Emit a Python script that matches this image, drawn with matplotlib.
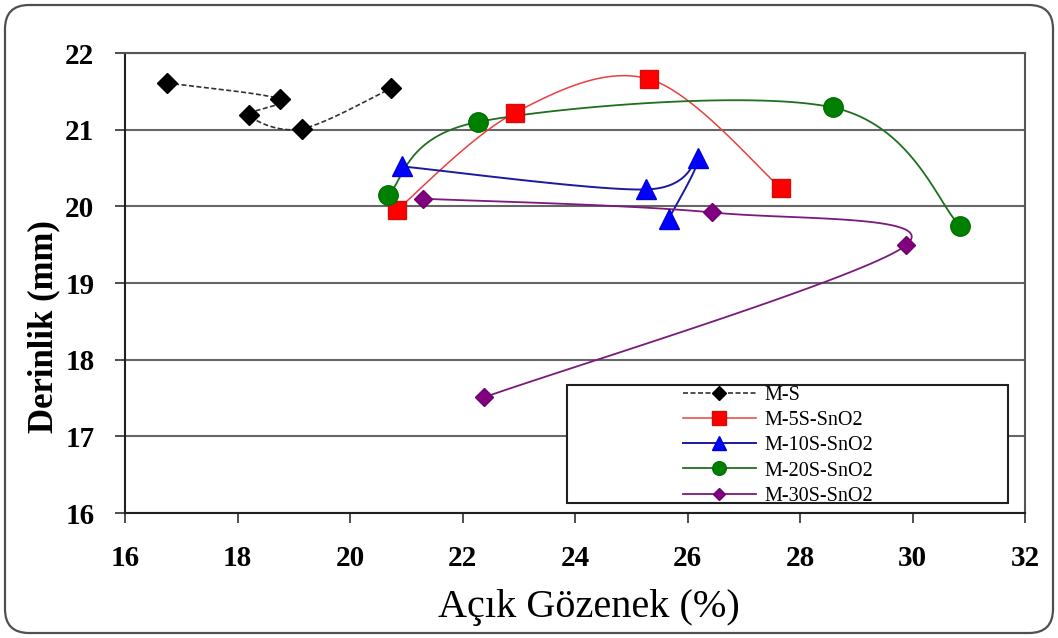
import numpy as np
import matplotlib
matplotlib.use("Agg")
import matplotlib.pyplot as plt
from matplotlib.patches import FancyBboxPatch, Rectangle
from matplotlib.lines import Line2D

# Açık gözenek (%) and derinlik (mm) per sample series, in plotting order
ms_x = [16.74, 18.76, 18.21, 19.14, 20.73]
ms_y = [21.61, 21.40, 21.19, 21.01, 21.54]
s5_x = [20.83, 22.93, 25.32, 27.66]
s5_y = [19.95, 21.22, 21.66, 20.24]
s10_x = [20.93, 25.26, 26.18, 25.67]
s10_y = [20.52, 20.22, 20.63, 19.84]
s20_x = [20.68, 22.27, 28.58, 30.84]
s20_y = [20.15, 21.10, 21.29, 19.75]
s30_x = [21.29, 26.44, 29.88, 22.39]
s30_y = [20.10, 19.92, 19.49, 17.51]

labels = ["M-S", "M-5S-SnO2", "M-10S-SnO2", "M-20S-SnO2", "M-30S-SnO2"]
x_ticks = [16, 18, 20, 22, 24, 26, 28, 30, 32]
y_ticks = [16, 17, 18, 19, 20, 21, 22]

W, H = 1058, 638
fig = plt.figure(figsize=(W / 100, H / 100), dpi=100)
fig.patch.set_facecolor("white")

# rounded outer frame (pixel coordinates)
frame = FancyBboxPatch((5, 5), W - 10, H - 10,
                       boxstyle="round,pad=0,rounding_size=24",
                       transform=None, facecolor="none",
                       edgecolor="#505050", linewidth=1.6)
fig.patches.append(frame)

L, R, T, B = 125, 1025, 53, 513
ax = fig.add_axes([L / W, (H - B) / H, (R - L) / W, (B - T) / H])
ax.set_xlim(16, 32)
ax.set_ylim(16, 22)
ax.set_xticks(x_ticks)
ax.set_yticks(y_ticks)

serif = ["Liberation Serif", "DejaVu Serif"]
for lab in ax.get_xticklabels() + ax.get_yticklabels():
    lab.set_fontfamily(serif)
    lab.set_fontweight("bold")
    lab.set_fontsize(21)
ax.tick_params(axis="x", direction="out", length=7, width=1.2, pad=16, color="#303030")
ax.tick_params(axis="y", direction="out", length=7, width=1.2, pad=15, color="#303030")

ax.yaxis.grid(True, color="#666666", linewidth=1.5)
ax.set_axisbelow(True)
ax.spines["left"].set_color("#202020")
ax.spines["bottom"].set_color("#202020")
ax.spines["top"].set_color("#555555")
ax.spines["right"].set_color("#555555")
for sp in ax.spines.values():
    sp.set_linewidth(1.5)


def smooth(xs, ys, n=40):
    """Bezier smoothing in screen space (Catmull-Rom style control points)."""
    pts = ax.transData.transform(np.column_stack([xs, ys]))
    m = len(pts)
    out = [pts[0]]
    t = np.linspace(0, 1, n)[1:, None]
    for i in range(m - 1):
        p0 = pts[max(i - 1, 0)]
        p1 = pts[i]
        p2 = pts[i + 1]
        p3 = pts[min(i + 2, m - 1)]
        c1 = p1 + (p2 - p0) / 6.0
        c2 = p2 - (p3 - p1) / 6.0
        seg = ((1 - t) ** 3) * p1 + 3 * ((1 - t) ** 2) * t * c1 \
            + 3 * (1 - t) * (t ** 2) * c2 + (t ** 3) * p2
        out.extend(seg)
    return ax.transData.inverted().transform(np.array(out))


series = [
    dict(x=ms_x, y=ms_y, lc="#333333", ls=(0, (3, 1.5)), lw=1.2,
         marker="D", ms=10, mfc="black", mec="black"),
    dict(x=s5_x, y=s5_y, lc="#e84040", ls="-", lw=1.1,
         marker="s", ms=13.5, mfc="#ff0000", mec="#cc1010"),
    dict(x=s10_x, y=s10_y, lc="#1a1aa0", ls="-", lw=1.4,
         marker="^", ms=14, mfc="#0000ff", mec="#0000dd"),
    dict(x=s20_x, y=s20_y, lc="#1f6f1f", ls="-", lw=1.3,
         marker="o", ms=14, mfc="#008000", mec="#007000"),
    dict(x=s30_x, y=s30_y, lc="#7a1a7a", ls="-", lw=1.3,
         marker="D", ms=9, mfc="#800080", mec="#700070"),
]

handles = []
for s, lab in zip(series, labels):
    curve = smooth(s["x"], s["y"])
    ax.plot(curve[:, 0], curve[:, 1], color=s["lc"], linestyle=s["ls"],
            linewidth=s["lw"], zorder=3)
    ax.plot(s["x"], s["y"], linestyle="none", marker=s["marker"],
            markersize=s["ms"], markerfacecolor=s["mfc"],
            markeredgecolor=s["mec"], markeredgewidth=1, zorder=4)
    handles.append(Line2D([], [], color=s["lc"], linestyle=s["ls"],
                          linewidth=s["lw"], marker=s["marker"],
                          markersize=s["ms"] * 0.7, markerfacecolor=s["mfc"],
                          markeredgecolor=s["mec"], label=lab))

# legend box
box = Rectangle((567, H - 503), 1008 - 567, 503 - 385, transform=None,
                facecolor="white", edgecolor="#202020", linewidth=1.5, zorder=5)
fig.patches.append(box)
leg = fig.legend(handles=handles, loc="upper left",
                 bbox_to_anchor=(683 / W, (H - 386) / H),
                 frameon=False, prop={"family": serif, "size": 14.5},
                 handlelength=3.6, handletextpad=0.45, labelspacing=0.3,
                 borderaxespad=0, borderpad=0)
leg.set_zorder(6)

fig.text(44 / W, (H - 327) / H, "Derinlik (mm)", rotation=90,
         ha="center", va="center", fontsize=25, fontweight="bold",
         family=serif)
fig.text(589 / W, (H - 607) / H, "Açık Gözenek (%)", ha="center",
         va="center", fontsize=29, family=serif)

fig.savefig("out.png", dpi=100)
